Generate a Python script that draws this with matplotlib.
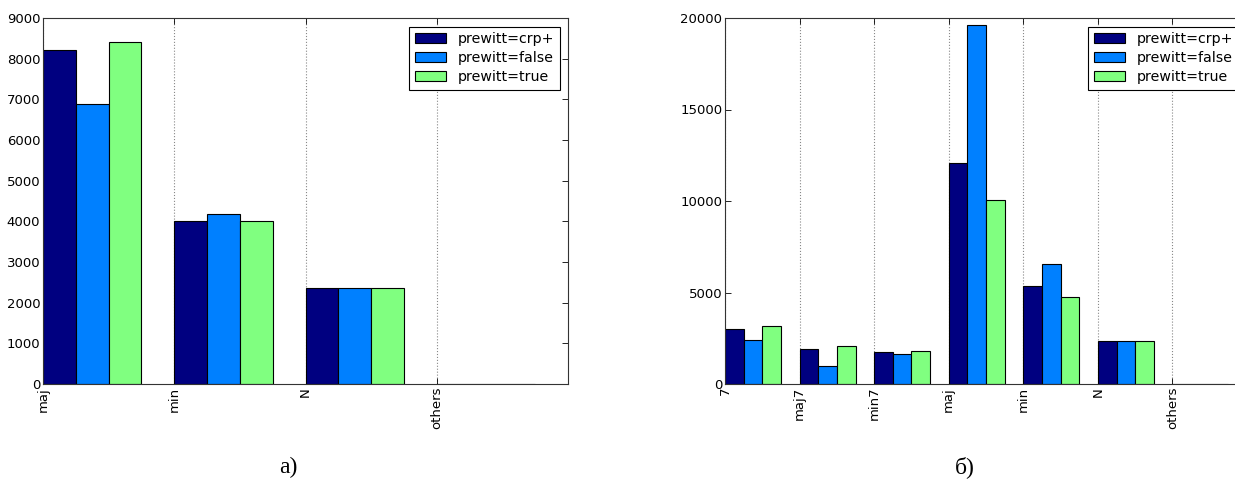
import matplotlib
matplotlib.use('Agg')
import matplotlib.pyplot as plt
import numpy as np

# data
left_cats = ['maj', 'min', 'N', 'others']
left_crp = [8210, 4020, 2370, 0]
left_false = [6890, 4180, 2370, 0]
left_true = [8410, 4020, 2370, 0]

right_cats = ['7', 'maj7', 'min7', 'maj', 'min', 'N', 'others']
right_crp = [3020, 1910, 1750, 12060, 5360, 2370, 0]
right_false = [2420, 980, 1660, 19630, 6540, 2370, 0]
right_true = [3170, 2060, 1820, 10050, 4750, 2370, 0]

series_names = ['prewitt=crp+', 'prewitt=false', 'prewitt=true']
colors = ['#000080', '#0080ff', '#80ff80']

plt.rcParams['font.family'] = ['DejaVu Sans']


def draw_panel(ax, cats, series, yticks):
    x = np.arange(len(cats))
    w = 0.25
    for i, (vals, name, c) in enumerate(zip(series, series_names, colors)):
        ax.bar(x + i * w, vals, w, align='edge', color=c, edgecolor='black',
               linewidth=0.8, label=name)
    ax.set_xlim(0, len(cats))
    ax.set_ylim(yticks[0], yticks[-1])
    ax.set_xticks(x)
    ax.set_xticklabels(cats, rotation=90, fontsize=9.5)
    ax.set_yticks(yticks)
    ax.tick_params(axis='y', labelsize=9.5)
    ax.tick_params(direction='in', top=True, right=True, length=4, width=0.6, pad=2)
    ax.xaxis.grid(True, linestyle=':', color='#888888', linewidth=0.8)
    ax.set_axisbelow(True)
    for s in ax.spines.values():
        s.set_linewidth(0.8)
        s.set_color('#333333')
    leg = ax.legend(loc='upper right', fontsize=10.2, fancybox=False, framealpha=1,
                    borderaxespad=0.6, handlelength=2.2, labelspacing=0.35)
    leg.get_frame().set_edgecolor('black')
    leg.get_frame().set_linewidth(0.8)


fig = plt.figure(figsize=(12.35, 4.83), dpi=100)

ax1 = fig.add_axes([43 / 1235, 1 - 384 / 483, 525 / 1235, 366 / 483])
draw_panel(ax1, left_cats, [left_crp, left_false, left_true], np.arange(0, 9001, 1000))

# the right panel runs past the edge of the picture, as in the reference
ax2 = fig.add_axes([725 / 1235, 1 - 384 / 483, 522 / 1235, 366 / 483])
draw_panel(ax2, right_cats, [right_crp, right_false, right_true], np.arange(0, 20001, 5000))

fig.text(288 / 1235, 1 - 467 / 483, 'а)', ha='center', va='center',
         fontsize=17, family='Liberation Serif')
fig.text(965 / 1235, 1 - 467 / 483, 'б)', ha='center', va='center',
         fontsize=17, family='Liberation Serif')

plt.savefig('out.png', dpi=100)
